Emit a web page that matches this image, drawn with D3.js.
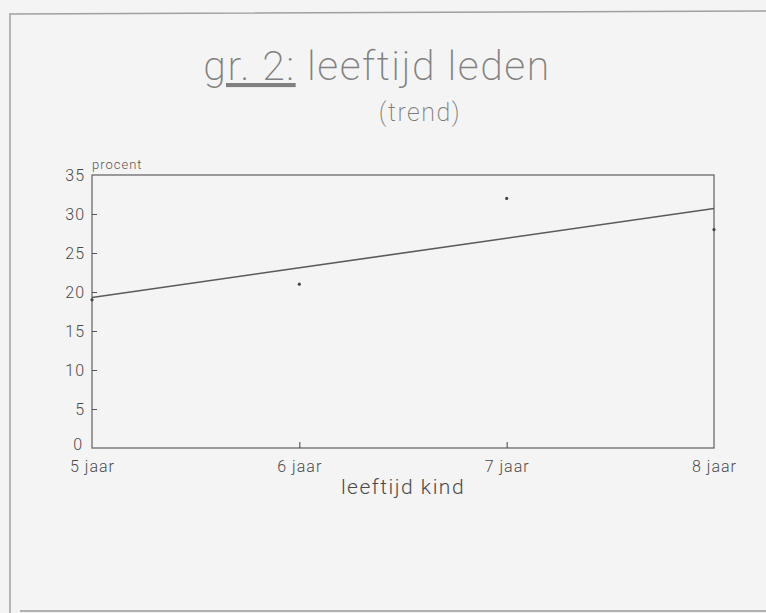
<!DOCTYPE html>
<html lang="nl">
<meta charset="utf-8">
<style type="text/css">
  body { margin: 0; background: #f4f4f4; }
  svg { display: block; }
  text { font-family: Roboto, "Liberation Sans", sans-serif; fill: #555; }
  .axis text { font-weight: 300; fill: #4a4a4a; letter-spacing: 1px; }
</style>
<script src="https://d3js.org/d3.v7.min.js"></script>
<body>
<div id="chart"></div>
<script type="text/javascript">
  // data
  var ages = [5, 6, 7, 8];
  var ageLabels = ["5 jaar", "6 jaar", "7 jaar", "8 jaar"];
  var procent = [19, 21, 32, 28];
  var yTicks = [0, 5, 10, 15, 20, 25, 30, 35];

  var W = 766, H = 613;
  var m = {left: 92, right: 52, top: 175, bottom: 165};

  var svg = d3.select("#chart").append("svg")
    .attr("width", W)
    .attr("height", H);

  // scanned page frame
  svg.append("path")
    .attr("d", "M10,613 L10,14 L766,11")
    .attr("fill", "none")
    .attr("stroke", "#a0a0a0")
    .attr("stroke-width", 1.5);
  svg.append("line")
    .attr("x1", 20).attr("x2", 766)
    .attr("y1", 611).attr("y2", 611)
    .attr("stroke", "#9a9a9a")
    .attr("stroke-width", 1.5);

  var x = d3.scaleLinear()
    .domain([5, 8])
    .range([m.left, W - m.right]);

  var y = d3.scaleLinear()
    .domain([0, 35])
    .range([H - m.bottom, m.top]);

  // plot box
  svg.append("rect")
    .attr("x", x(5))
    .attr("y", y(35))
    .attr("width", x(8) - x(5))
    .attr("height", y(0) - y(35))
    .attr("fill", "none")
    .attr("stroke", "#6a6a6a")
    .attr("stroke-width", 1.3);

  // y axis, ticks pointing inward
  var yAxis = svg.append("g")
    .attr("class", "axis")
    .attr("transform", "translate(" + x(5) + ",0)")
    .call(d3.axisRight(y).tickValues(yTicks).tickSize(5).tickFormat(d3.format("d")));
  yAxis.select(".domain").remove();
  yAxis.selectAll("line").attr("stroke", "#555");
  yAxis.selectAll("text")
    .attr("x", -7)
    .attr("text-anchor", "end")
    .attr("dy", "0.35em")
    .style("font-size", "16px");
  yAxis.selectAll(".tick").filter((d) => d === 0 || d === 35).select("line").remove();
  yAxis.selectAll(".tick").filter((d) => d === 0).select("text").attr("dy", "0.1em").attr("x", -9);

  // x axis, ticks pointing up
  var xAxis = svg.append("g")
    .attr("class", "axis")
    .attr("transform", "translate(0," + y(0) + ")")
    .call(d3.axisTop(x).tickValues(ages).tickSize(6).tickFormat((d, i) => ageLabels[i]));
  xAxis.select(".domain").remove();
  xAxis.selectAll("line").attr("stroke", "#444");
  xAxis.selectAll(".tick").filter((d) => d === 5 || d === 8).select("line").remove();
  xAxis.selectAll("text")
    .attr("y", 24)
    .attr("dy", 0)
    .style("font-size", "16px");

  // trend line (least squares through the points)
  var mx = d3.mean(ages), my = d3.mean(procent);
  var slope = d3.sum(ages, (a, i) => (a - mx) * (procent[i] - my)) / d3.sum(ages, (a) => (a - mx) * (a - mx));
  var trend = (a) => my + slope * (a - mx);

  svg.append("path")
    .datum([5, 8])
    .attr("d", d3.line().x((d) => x(d)).y((d) => y(trend(d))))
    .attr("fill", "none")
    .attr("stroke", "#5a5a5a")
    .attr("stroke-width", 1.6);

  svg.selectAll(".pt")
    .data(ages)
    .enter()
    .append("circle")
      .attr("class", "pt")
      .attr("cx", (d) => x(d))
      .attr("cy", (d, i) => y(procent[i]))
      .attr("r", 1.6)
      .attr("fill", "#444");

  // labels
  svg.append("text")
    .attr("x", x(5))
    .attr("y", y(35) - 6)
    .style("font-size", "13px")
    .style("font-weight", 300)
    .style("letter-spacing", "1px")
    .style("fill", "#555")
    .text("procent");

  svg.append("text")
    .attr("x", (x(5) + x(8)) / 2)
    .attr("y", y(0) + 46)
    .attr("text-anchor", "middle")
    .style("font-size", "21px")
    .style("font-weight", 300)
    .style("letter-spacing", "1.5px")
    .style("fill", "#4a4a4a")
    .text("leeftijd kind");

  var title = svg.append("text")
    .attr("x", 377)
    .attr("y", 80)
    .attr("text-anchor", "middle")
    .style("font-size", "41px")
    .style("font-weight", 200)
    .style("letter-spacing", "1.5px")
    .style("fill", "#808080");
  title.append("tspan")
    .style("text-decoration", "underline")
    .text("gr. 2:");
  title.append("tspan").text(" leeftijd leden");

  svg.append("text")
    .attr("x", 420)
    .attr("y", 121)
    .attr("text-anchor", "middle")
    .style("font-size", "25px")
    .style("font-weight", 200)
    .style("letter-spacing", "1.5px")
    .style("fill", "#7a7a7a")
    .text("(trend)");
</script>
</body>
</html>
